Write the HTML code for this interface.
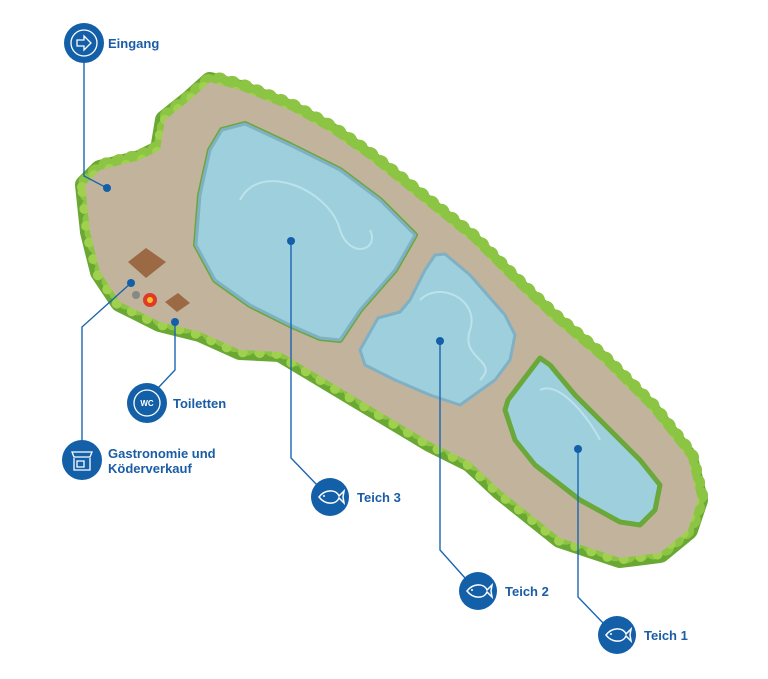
<!DOCTYPE html>
<html><head><meta charset="utf-8"><style>
html,body{margin:0;padding:0;background:#fff;}
svg{display:block}
text{font-family:"Liberation Sans",sans-serif;font-weight:bold;fill:#1a5ca6;font-size:13px}
</style></head><body>
<svg width="768" height="679" viewBox="0 0 768 679" xmlns="http://www.w3.org/2000/svg">
<defs>
<g id="fish"><circle r="19" fill="#135fa8"/><path d="M-11 0 C-5 -8 6 -8 9 -1 L14 -6 L13 0 L14 6 L9 1 C6 8 -5 8 -11 0Z" fill="none" stroke="#fff" stroke-width="1.5"/><circle cx="-6" cy="-1" r="1" fill="#fff"/></g>
<path id="L" d="M85 185 L100 170 L140 160 L160 150 L165 120 L190 100 L210 82 L240 90 L290 110 L330 132 L370 160 L420 200 L470 240 L510 280 L550 318 L600 360 L650 410 L688 458 L698 500 L688 530 L660 553 L620 558 L560 538 L500 490 L470 462 L430 442 L380 412 L330 382 L280 352 L240 350 L200 332 L160 322 L120 302 L100 272 L90 232 Z"/>
</defs>
<use href="#L" fill="#c2b39c" stroke="#6aa834" stroke-width="20" stroke-linejoin="round"/>
<use href="#L" fill="none" stroke="#8cc443" stroke-width="17" stroke-dasharray="0 13" stroke-linecap="round" transform="translate(2,-3)"/>
<use href="#L" fill="none" stroke="#9fd14f" stroke-width="10" stroke-dasharray="0 17" stroke-linecap="round" transform="translate(-3,2)"/>
<use href="#L" fill="#c2b39c"/>
<!-- ponds -->
<g fill="#9dd0dc" stroke="#7fb0c4" stroke-width="3" stroke-linejoin="round">
<path d="M222 130 L245 124 L290 145 L340 170 L380 200 L415 235 L395 270 L360 310 L340 340 L320 338 L290 325 L250 305 L215 280 L196 245 L200 195 L210 150Z" stroke="#6aa83a" stroke-width="6"/>
<path d="M222 130 L245 124 L290 145 L340 170 L380 200 L415 235 L395 270 L360 310 L340 340 L320 338 L290 325 L250 305 L215 280 L196 245 L200 195 L210 150Z"/>
<path d="M435 255 L445 254 L470 275 L505 315 L515 335 L510 360 L495 380 L460 405 L430 395 L395 380 L365 365 L360 350 L378 318 L400 312 L410 300 L425 270Z"/>
<path d="M540 358 L550 365 L575 395 L610 430 L640 460 L660 485 L655 510 L640 525 L620 522 L580 500 L535 465 L515 440 L505 410 L508 400Z" stroke="#6aa83a" stroke-width="5"/>
</g>
<g fill="none" stroke="#c4e6ee" stroke-width="2" opacity=".8">
<path d="M240 200 C260 160 330 190 340 230 C350 260 380 250 370 230"/>
<path d="M420 300 C440 280 480 300 470 330 C460 360 500 360 480 380"/>
<path d="M540 390 C560 380 590 420 600 440"/>
</g>
<!-- buildings -->
<path d="M128 262 L146 248 L166 262 L146 278Z" fill="#9b6a44"/>
<path d="M165 302 L178 293 L190 303 L177 312Z" fill="#9b6a44"/>
<circle cx="150" cy="300" r="7" fill="#e0392a"/><circle cx="150" cy="300" r="3" fill="#f2c22b"/>
<circle cx="136" cy="295" r="4" fill="#888"/>
<!-- connectors -->
<g stroke="#1c65b0" stroke-width="1.4" fill="none">
<path d="M84 60 L84 176 L107 188"/>
<path d="M82 442 L82 327 L131 283"/>
<path d="M175 322 L175 370 L158 388"/>
<path d="M291 241 L291 458 L318 486"/>
<path d="M440 341 L440 550 L465 578"/>
<path d="M578 449 L578 597 L604 624"/>
</g>
<g fill="#135fa8">
<circle cx="107" cy="188" r="4"/><circle cx="131" cy="283" r="4"/><circle cx="175" cy="322" r="4"/>
<circle cx="291" cy="241" r="4"/><circle cx="440" cy="341" r="4"/><circle cx="578" cy="449" r="4"/>
</g>
<!-- badges -->
<circle cx="84" cy="43" r="20" fill="#135fa8"/><circle cx="84" cy="43" r="13" fill="none" stroke="#fff" stroke-width="1.3"/>
<path d="M77 40 L84 40 L84 36 L91 43 L84 50 L84 46 L77 46Z" fill="none" stroke="#fff" stroke-width="1.3"/>
<text x="108" y="48">Eingang</text>
<circle cx="147" cy="403" r="20" fill="#135fa8"/><circle cx="147" cy="403" r="13" fill="none" stroke="#fff" stroke-width="1.3"/>
<text x="147" y="406" text-anchor="middle" style="fill:#fff;font-size:8px">WC</text>
<text x="173" y="408">Toiletten</text>
<circle cx="82" cy="460" r="20" fill="#135fa8"/>
<path d="M72 452 L92 452 L90 457 L74 457Z M74 458 L74 470 L90 470 L90 458 M77 461 L84 461 L84 467 L77 467Z" fill="none" stroke="#fff" stroke-width="1.3"/>
<text x="108" y="458">Gastronomie und</text>
<text x="108" y="473">Köderverkauf</text>
<use href="#fish" x="330" y="497"/><text x="357" y="502">Teich 3</text>
<use href="#fish" x="478" y="591"/><text x="505" y="596">Teich 2</text>
<use href="#fish" x="617" y="635"/><text x="644" y="640">Teich 1</text>
</svg>
</body></html>
